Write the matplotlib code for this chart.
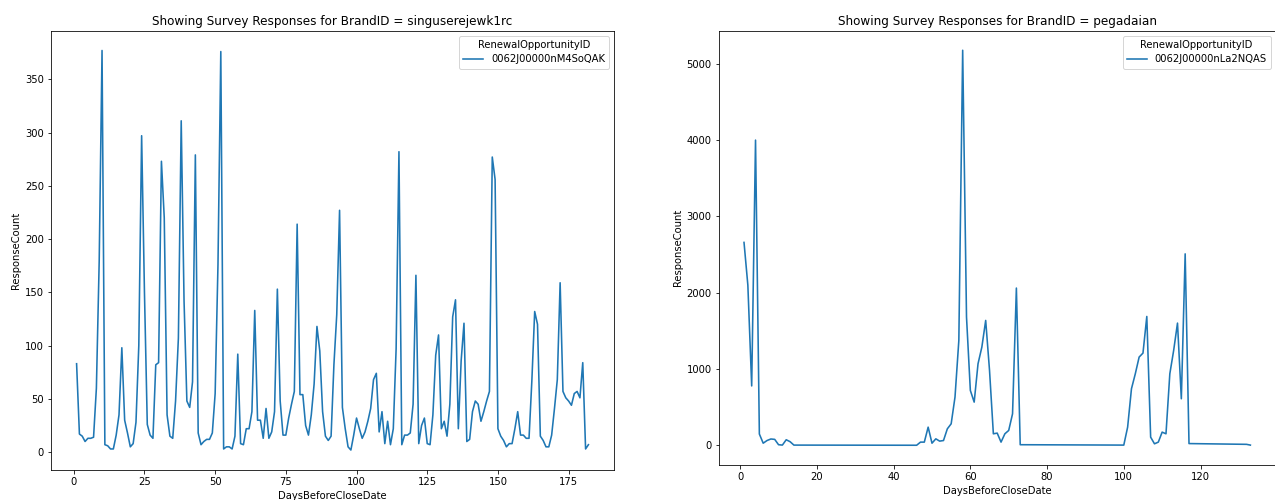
import matplotlib
matplotlib.use("Agg")
import matplotlib.pyplot as plt

# brand 1: singuserejewk1rc
days_a = list(range(1, 183))
counts_a = [83, 17, 15, 10, 13, 13, 14, 60, 180, 377,
            7, 6, 3, 3, 16, 35, 98, 30, 18, 5,
            8, 28, 100, 297, 150, 26, 16, 13, 82, 84,
            273, 220, 35, 15, 13, 48, 107, 311, 142, 48,
            42, 66, 279, 18, 7, 10, 12, 12, 18, 55,
            176, 376, 3, 5, 5, 3, 15, 92, 8, 7,
            22, 22, 38, 133, 30, 30, 13, 41, 13, 19,
            38, 153, 48, 16, 16, 32, 45, 57, 214, 54,
            54, 25, 16, 35, 64, 118, 95, 38, 15, 11,
            15, 82, 129, 227, 42, 22, 5, 2, 16, 32,
            22, 13, 19, 29, 41, 68, 74, 19, 38, 8,
            29, 7, 22, 97, 282, 7, 16, 16, 18, 45,
            166, 8, 25, 32, 8, 7, 35, 91, 110, 22,
            29, 15, 45, 127, 143, 22, 86, 121, 10, 12,
            38, 48, 45, 29, 38, 48, 57, 277, 256, 22,
            15, 11, 5, 8, 8, 22, 38, 16, 16, 13,
            13, 67, 132, 120, 15, 11, 5, 5, 16, 41,
            68, 159, 57, 51, 48, 44, 55, 57, 51, 84,
            3, 7]
opp_a = "0062J00000nM4SoQAK"

# brand 2: pegadaian
days_b = [1, 2, 3, 4, 5, 6, 7, 8, 9, 10, 11, 12, 13, 14,
          46, 47, 48, 49, 50, 51, 52, 53, 54, 55, 56, 57, 58, 59,
          60, 61, 62, 63, 64, 65, 66, 67, 68, 69, 70, 71, 72, 73,
          100, 101, 102, 103, 104, 105, 106, 107, 108, 109, 110,
          111, 112, 113, 114, 115, 116, 117, 132, 133]
counts_b = [2660, 2100, 780, 4000, 150, 30, 65, 85, 80, 10, 5, 75, 50, 5,
            3, 44, 44, 240, 30, 87, 57, 65, 218, 284, 634, 1376, 5177, 1682,
            721, 568, 1070, 1289, 1638, 983, 153, 162, 44, 153, 197, 415, 2062, 10,
            5, 240, 743, 939, 1158, 1210, 1690, 109, 22, 44, 175,
            153, 939, 1245, 1603, 612, 2510, 25, 15, 5]
opp_b = "0062J00000nLa2NQAS"

plt.rcParams.update({'font.size': 10})
W, H = 1275, 500
DPI = 72
fig = plt.figure(figsize=(W / DPI, H / DPI), dpi=DPI)
ax1 = fig.add_axes([51/W, 1 - 470/H, 563/W, 439.5/H])
ax2 = fig.add_axes([718.7/W, 1 - 465/H, 557/W, 434.5/H])

ax1.plot(days_a, counts_a, color='#1f77b4', linewidth=1.6, label=opp_a)
ax1.set_title("Showing Survey Responses for BrandID = singuserejewk1rc")
ax1.set_xlabel("DaysBeforeCloseDate")
ax1.set_ylabel("ResponseCount")
ax1.legend(title="RenewalOpportunityID", loc='upper right')

ax2.plot(days_b, counts_b, color='#1f77b4', linewidth=1.6, label=opp_b)
ax2.set_title("Showing Survey Responses for BrandID = pegadaian")
ax2.set_xlabel("DaysBeforeCloseDate")
ax2.set_ylabel("ResponseCount")
ax2.legend(title="RenewalOpportunityID", loc='upper right')

fig.savefig('out.png', dpi=DPI)
